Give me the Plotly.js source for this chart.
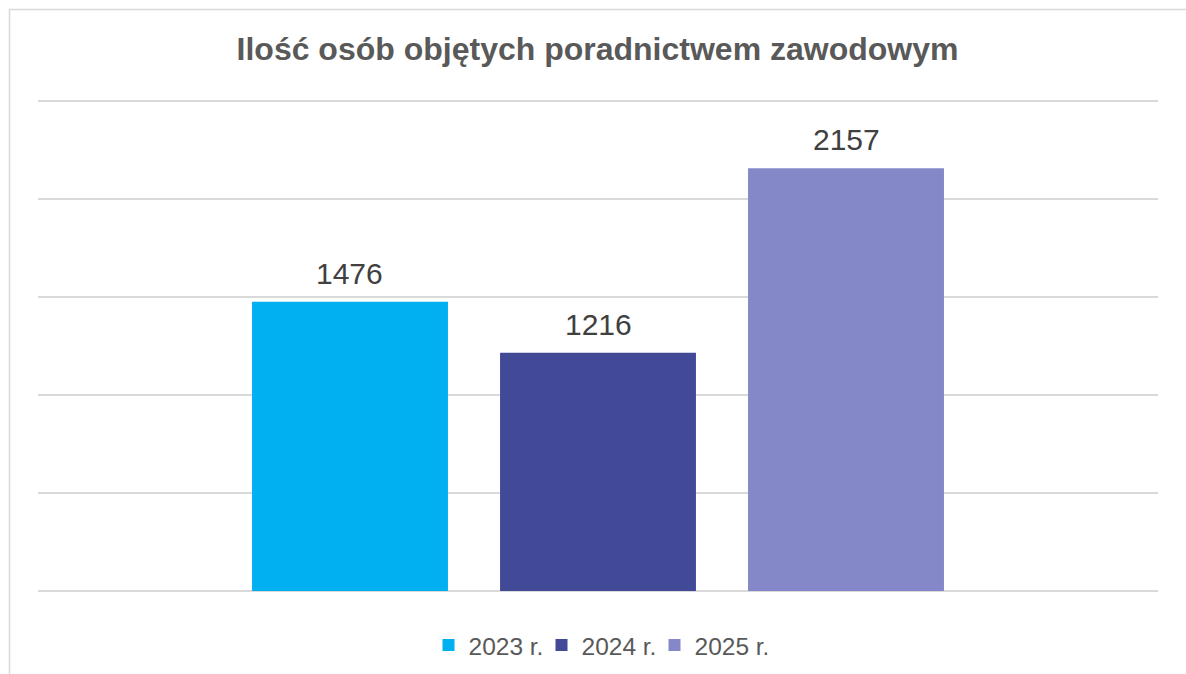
<!DOCTYPE html>
<html>
<head>
<meta charset="utf-8">
<script src="https://cdn.plot.ly/plotly-3.0.1.min.js"></script>
<style>
  html, body { margin: 0; padding: 0; background: #fff; }
  #vis { width: 1186px; height: 674px; }
</style>
</head>
<body>
<div id="vis"></div>
<script>
// one bar per year, each its own legend entry
const years = ['2023 r.', '2024 r.', '2025 r.']
const counts = [1476, 1216, 2157]
const colors = ['#00B0F0', '#424A98', '#8488C8']

const data = years.map((year, i) => ({
  type: 'bar',
  name: year,
  x: [i],
  y: [counts[i]],
  width: 0.79,
  marker: { color: colors[i] },
  hoverinfo: 'name+y'
}))

// value labels sit a bit higher than plotly's 'outside' text would
const labels = years.map((year, i) => ({
  x: i,
  y: counts[i],
  xref: 'x',
  yref: 'y',
  text: String(counts[i]),
  showarrow: false,
  yanchor: 'bottom',
  yshift: 10,
  font: { family: 'Liberation Sans, Arial, sans-serif', size: 30, color: '#404040' }
}))

const layout = {
  width: 1186,
  height: 674,
  // a little headroom above 2500 so its gridline is drawn
  margin: { l: 38, r: 28, t: 99, b: 83, autoexpand: false },
  paper_bgcolor: '#ffffff',
  plot_bgcolor: '#ffffff',
  font: { family: 'Liberation Sans, Arial, sans-serif', color: '#595959' },
  title: {
    text: '<b>Ilość osób objętych poradnictwem zawodowym</b>',
    font: { size: 32, color: '#595959' },
    x: 0.5038,
    xanchor: 'center',
    y: 0.927,
    yanchor: 'middle'
  },
  barmode: 'overlay',
  showlegend: true,
  legend: {
    orientation: 'h',
    x: 0.5,
    xanchor: 'center',
    y: -0.11,
    yanchor: 'middle',
    font: { size: 24.5, color: '#595959' },
    entrywidth: 68,
    entrywidthmode: 'pixels',
    traceorder: 'normal'
  },
  xaxis: {
    range: [-1.258, 3.258],
    showticklabels: false,
    showgrid: false,
    zeroline: false,
    fixedrange: true
  },
  yaxis: {
    range: [0, 2510],
    dtick: 500,
    showticklabels: false,
    gridcolor: '#d9d9d9',
    gridwidth: 1.5,
    zeroline: true,
    zerolinecolor: '#d9d9d9',
    zerolinewidth: 1.5,
    fixedrange: true
  },
  annotations: labels,
  shapes: [{
    type: 'rect',
    xref: 'paper',
    yref: 'paper',
    x0: (9.5 - 38) / 1120,
    x1: 1.1,
    y0: -0.3,
    y1: 1 + (99 - 9.5) / 492,
    line: { color: '#d9d9d9', width: 1.5 },
    layer: 'below'
  }]
}

Plotly.newPlot('vis', data, layout, { displayModeBar: false })
</script>
</body>
</html>
